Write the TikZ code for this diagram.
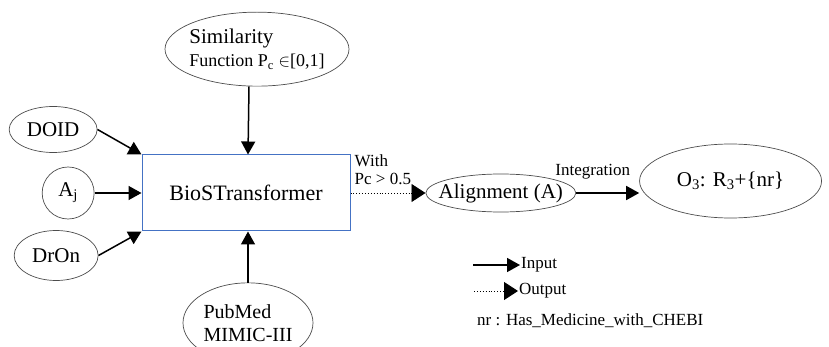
\documentclass[tikz,border=0pt]{standalone}
\usepackage{fontspec}
\setmainfont{Liberation Serif}
\usetikzlibrary{arrows.meta}
\usetikzlibrary{positioning}
\usetikzlibrary{shapes.geometric}
\definecolor{boxblue}{RGB}{68,114,196}

\tikzset{
  ell/.style={ellipse, draw=black!70, line width=0.7pt, inner xsep=-25pt, inner ysep=-10pt,
    font=\fontsize{21}{23}\selectfont},
  arr/.style={-{Triangle[length=13pt,width=14pt]}, line width=1.5pt},
  dotarr/.style={dotted, -{Triangle[length=14pt,width=18pt]}, line width=0.9pt},
  small/.style={font=\fontsize{17}{18}\selectfont, inner sep=1pt},
}

\begin{document}
\begin{tikzpicture}[x=1pt, y=-1pt]
    \useasboundingbox (0,0) rectangle (829,347);

    \node[draw=boxblue, line width=1pt, minimum width=208pt, minimum height=76pt,
      font=\fontsize{22}{26}\selectfont] (bio) at (246,193) {BioSTransformer};
    \node[ell, minimum width=184pt, minimum height=74pt, align=left,
      above=68pt of bio, xshift=11pt] (sim)
      {Similarity\\{\fontsize{18}{22}\selectfont Function P\textsubscript{c} $\in$[0,1]}};
    \node[ell, minimum width=88pt, minimum height=46pt,
      left=44pt of bio.north west, yshift=25pt] (doid) {DOID};
    \node[ell, circle, inner sep=0pt, minimum size=52pt, left=47pt of bio] (aj) {A\textsubscript{j}};
    \node[ell, minimum width=84pt, minimum height=50pt,
      left=43pt of bio.south west, yshift=-24pt] (dron) {DrOn};
    \node[ell, minimum width=130pt, minimum height=80pt, align=left,
      below=51pt of bio, xshift=2pt, font=\fontsize{20}{23}\selectfont] (pub) {PubMed\\MIMIC-III};

    \node[ell, minimum width=150pt, minimum height=38pt, right=75pt of bio] (align) {Alignment (A)};
    \node[ell, minimum width=182pt, minimum height=74pt, right=63pt of align, yshift=12pt]
      (o3) {O\textsubscript{3}: R\textsubscript{3}+\{nr\}};

    % inputs into the transformer
    \draw[arr] (doid.east) -- (bio.north west);
    \draw[arr] (aj) -- (bio.west);
    \draw[arr] (dron.east) -- (bio.south west);
    \draw[arr] ([xshift=-8pt]sim.south) -- ([xshift=2pt]bio.north);
    \draw[arr] (pub.north) -- (bio.south -| pub.north);

    % output side
    \draw[dotarr] (bio.east) -- (align.west);
    \node[small, align=left, anchor=south west, xshift=3pt, yshift=7pt] (with) at (bio.east)
      {With\\Pc > 0.5};
    \draw[arr] (align.east) -- (align.east -| o3.west)
      node[small, midway, above=12pt, xshift=-15pt] (integ) {Integration};

    % legend
    \node[small, anchor=west] (inp) at (520,265) {Input};
    \coordinate[left=47pt of inp.west] (inps);
    \draw[arr] (inps) -- (inp.west);
    \node[small, anchor=west] (outp) at (518,291) {Output};
    \coordinate[left=44pt of outp.west] (outps);
    \draw[dotarr] (outps) -- (outp.west);
    \node[small, anchor=west] (nr) at (476,321) {nr : Has\_Medicine\_with\_CHEBI};
\end{tikzpicture}
\end{document}
